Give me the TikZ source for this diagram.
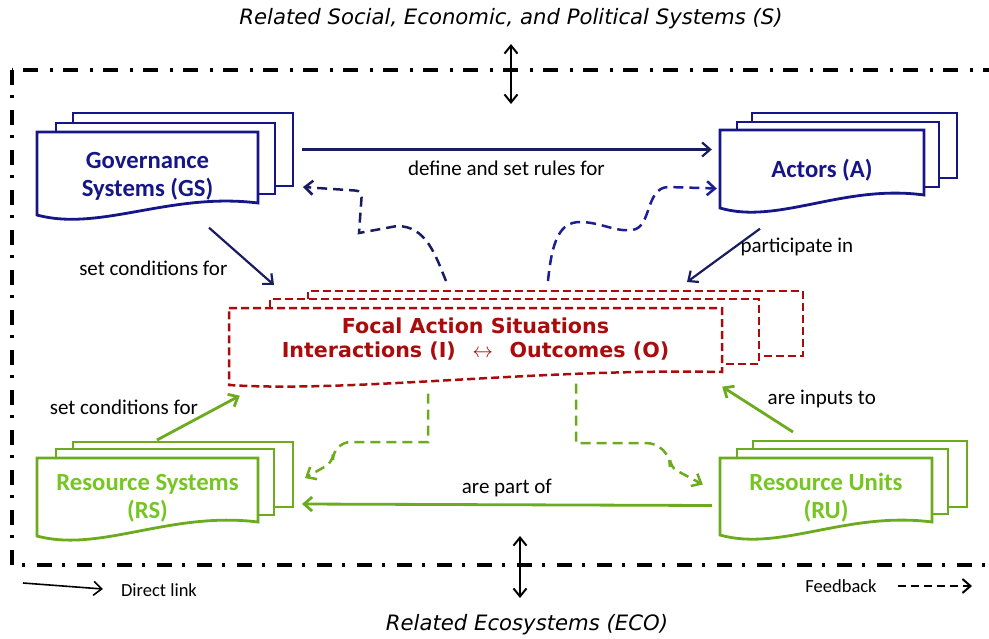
\documentclass[tikz,border=0pt]{standalone}
\usepackage{fontspec}
\setmainfont{Carlito}
\newfontfamily\verdanalike{DejaVu Sans}
\usetikzlibrary{arrows.meta}
\definecolor{gsnavy}{RGB}{22,22,136}
\definecolor{linknavy}{RGB}{26,28,96}
\definecolor{fbnavy}{RGB}{28,30,150}
\definecolor{fasred}{RGB}{170,12,12}
\definecolor{rsgreen}{RGB}{108,170,30}
\definecolor{rstext}{RGB}{118,198,34}
\begin{document}
\begin{tikzpicture}%
	[x={(1pt,0pt)},
	y={(0pt,-1pt)},
	frame/.style={line width=3.5pt, dash pattern=on 15pt off 10pt on 3pt off 12pt},
	sheet/.style={draw, fill=white, line width=2.8pt, inner sep=0pt, outer sep=0pt},
	front/.style={fill=white, line width=2.8pt},
	fasdash/.style={line width=2.5pt, dash pattern=on 8pt off 4pt},
	boxtext/.style={inner sep=0pt, align=center, font=\bfseries\fontsize{24.7}{28}\selectfont},
	fastext/.style={inner sep=0pt, align=center, text=fasred, font=\verdanalike\bfseries\fontsize{20.6}{24}\selectfont},
	link/.style={-{Straight Barb[length=8pt,width=14pt]}, line width=2.2pt},
	feedback/.style={link, line width=2.5pt, dash pattern=on 10pt off 6pt},
	dbl/.style={{Straight Barb[length=8pt,width=13pt]}-{Straight Barb[length=8pt,width=13pt]}, line width=2pt},
	lbl/.style={inner sep=0pt, text=black, font=\fontsize{21}{23}\selectfont},
	legend/.style={inner sep=0pt, text=black, font=\fontsize{18.5}{20}\selectfont},
	title/.style={inner sep=0pt, font=\verdanalike\itshape\fontsize{21.2}{23}\selectfont}]
	%
	\useasboundingbox (0,0) rectangle (989,638);
	\clip (0,0) rectangle (989,638);
	%
	%% Outer frame and the related systems
	%%
	\draw[frame] (12,70) rectangle (1010,565);
	\node[title] (sys) at (511,19) {Related Social, Economic, and Political Systems (S)};
	\node[title] (eco) at (527,625) {Related Ecosystems (ECO)};
	\draw[dbl] ([shift={(0,25)}]sys.center) -- ++(0,60);
	\draw[dbl] ([shift={(-7,-27)}]eco.center) -- ++(0,-62);
	%%
	%% Governance Systems (GS)
	%%
	\node[sheet, draw=gsnavy, minimum width=220, minimum height=73] (gs3) at (183,149.5) {};
	\node[sheet, draw=gsnavy, minimum width=219, minimum height=71] (gs2) at (165.5,158.5) {};
	\filldraw[front, draw=gsnavy] (37,132) -- (258,132) -- (258,203) .. controls (170,192) and (100,232) .. (37,215) -- cycle;
	\node[boxtext, text=gsnavy, minimum width=221, minimum height=83] (gs) at (147.5,176) {Governance\\Systems (GS)};
	%%
	%% Actors (A)
	%%
	\node[sheet, draw=gsnavy, minimum width=205, minimum height=65] (act3) at (854.5,145.5) {};
	\node[sheet, draw=gsnavy, minimum width=202, minimum height=65] (act2) at (838,154.5) {};
	\filldraw[front, draw=gsnavy] (720,130) -- (924,130) -- (924,195) .. controls (843,184) and (778,225) .. (720,208) -- cycle;
	\node[boxtext, text=gsnavy, minimum width=204, minimum height=78] (act) at (822,170.5) {Actors (A)};
	%%
	%% Resource Systems (RS)
	%%
	\node[sheet, draw=rsgreen, minimum width=220, minimum height=65] (rs3) at (183,474.5) {};
	\node[sheet, draw=rsgreen, minimum width=218, minimum height=66] (rs2) at (165,482) {};
	\filldraw[front, draw=rsgreen] (37,458) -- (258,458) -- (258,522) .. controls (170,511) and (100,553) .. (37,536) -- cycle;
	\node[boxtext, text=rstext, minimum width=221, minimum height=78] (rs) at (147.5,498.5) {Resource Systems\\(RS)};
	%%
	%% Resource Units (RU)
	%%
	\node[sheet, draw=rsgreen, minimum width=214, minimum height=66] (ru3) at (860,474) {};
	\node[sheet, draw=rsgreen, minimum width=211, minimum height=65] (ru2) at (842.5,481.5) {};
	\filldraw[front, draw=rsgreen] (720,458) -- (932,458) -- (932,522) .. controls (847,511) and (780,552) .. (720,535) -- cycle;
	\node[boxtext, text=rstext, minimum width=212, minimum height=77] (ru) at (826,498) {Resource Units\\(RU)};
	%%
	%% Focal Action Situations
	%%
	\node[sheet, fasdash, draw=fasred, minimum width=495, minimum height=65] (fas3) at (555.5,323.5) {};
	\node[sheet, fasdash, draw=fasred, minimum width=489, minimum height=65] (fas2) at (514.5,331.5) {};
	\filldraw[front, fasdash, draw=fasred] (229,308) -- (722,308) -- (722,372) .. controls (540,368) and (350,393) .. (229,385) -- cycle;
	\node[fastext, minimum width=493, minimum height=64] (fas) at (475.5,339.5) {Focal Action Situations\\Interactions (I)\hspace{0.8em}$\leftrightarrow$\hspace{0.8em}Outcomes (O)};
	%%
	%% Direct links
	%%
	\draw[link, linknavy, shorten <=9pt, shorten >=8pt] (gs3.east) -- (gs3.east -| act.west)
		node[lbl, midway, below=10pt] (ldefine) {define and set rules for};
	\draw[link, linknavy] ([shift={(61.5,10)}]gs.south) -- ([shift={(4,-14)}]fas2.north west)
		node[lbl, pos=0.7, left=26pt] (lgscond) {set conditions for};
	\draw[link, linknavy] ([shift={(-62,19)}]act.south) -- ([shift={(-116,-9)}]fas3.north east)
		node[lbl, pos=0.35, right=5pt] (lpart) {participate in};
	\draw[link, rsgreen, line width=2.8pt] ([shift={(-26,-2)}]rs3.north) -- ([shift={(11,24)}]fas.south west)
		node[lbl, pos=0.73, left=18pt] (lrscond) {set conditions for};
	\draw[link, rsgreen, line width=2.8pt] ([shift={(-67,-9)}]ru3.north) -- ([shift={(0,15)}]fas.south east)
		node[lbl, pos=0.73, right=25pt] (linputs) {are inputs to};
	\draw[link, rsgreen, line width=2.8pt] ([shift={(-8,7.5)}]ru.west) -- ([shift={(9,29.5)}]rs3.east)
		node[lbl, midway, above=6pt] (lpartof) {are part of};
	%%
	%% Feedbacks
	%%
	\draw[feedback, linknavy] ([shift={(-109.5,-10)}]fas3.north) to[out=112,in=0] (397,226)
		-- (359,233) [rounded corners=6pt] -- (362,191) -- ([shift={(10,1)}]gs3.south east);
	\draw[feedback, fbnavy] ([shift={(-7.5,-10)}]fas3.north) .. controls (552,240) and (560,222) .. (580,222)
		.. controls (600,222) and (615,232) .. (632,230) .. controls (652,228) and (645,188) .. (668,187)
		-- ([shift={(-3,18)}]act.west);
	\draw[feedback, rsgreen] ([shift={(-47.5,22)}]fas.south) -- (428,442) [rounded corners=18pt] -- (333,442)
		[rounded corners=8pt] -- (333,462) -- ([shift={(12,3.5)}]rs3.east);
	\draw[feedback, rsgreen] ([shift={(100.5,12)}]fas.south) -- (576,443) [rounded corners=24pt] -- (670,443)
		[rounded corners=8pt] -- (670,467) -- ([shift={(-17,-13.5)}]ru.west);
	%%
	%% Legend
	%%
	\coordinate (dlstart) at (23,583);
	\node[legend] (ldirect) at (159,590) {Direct link};
	\draw[link, black, line width=1.6pt] (dlstart) -- ([shift={(-18,-1)}]ldirect.west);
	\node[legend] (lfeed) at (841,586) {Feedback};
	\coordinate (fbend) at (972,586);
	\draw[feedback, black, line width=2pt, dash pattern=on 8pt off 5pt] ([xshift=21pt]lfeed.east) -- (fbend);
	%%
\end{tikzpicture}
\end{document}
